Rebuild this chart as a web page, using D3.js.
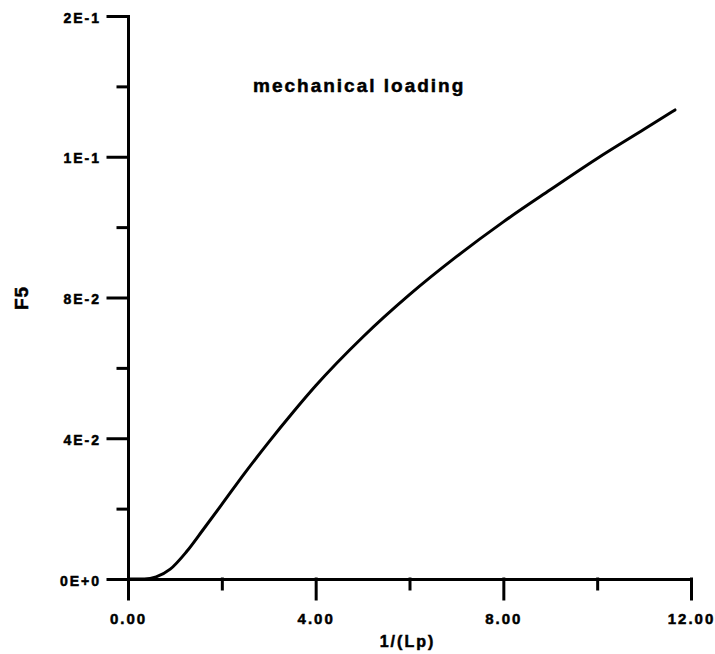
<!DOCTYPE html>
<html>
<head>
<meta charset="utf-8">
<script src="https://cdn.jsdelivr.net/npm/d3@7"></script>
<style>
  html, body { margin: 0; padding: 0; background: #fff; }
  svg { display: block; }
  text { font-family: "Liberation Sans", Arial, sans-serif; font-weight: bold; fill: #000;
         stroke: #000; stroke-width: 0.5px; }
</style>
</head>
<body>
<div id="chart"></div>
<script>
// ── Data ──────────────────────────────────────────────────────────────
const xVals = [0, 0.35, 0.60, 0.90, 1.25, 1.60, 2.0, 2.5, 3.0, 3.5, 4.0,
               5.0, 6.0, 7.0, 8.0, 9.0, 10.0, 11.0, 11.66];
const yVals = [0, 0, 0.0006, 0.0028, 0.0078, 0.0140, 0.0212, 0.0303, 0.0389, 0.0471, 0.0549,
               0.0687, 0.0808, 0.0916, 0.1015, 0.1106, 0.1195, 0.1278, 0.1333];

const xTicks      = [0, 4, 8, 12];
const xTickLabels = ["0.00", "4.00", "8.00", "12.00"];
const xMinor      = [2, 6, 10];

const yTicks      = [0, 0.04, 0.08, 0.12, 0.16];
const yTickLabels = ["0E+0", "4E-2", "8E-2", "1E-1", "2E-1"];
const yMinor      = [0.02, 0.06, 0.10, 0.14];

const W = 715, H = 654;

const x = d3.scaleLinear().domain([0, 12]).range([128, 691]);
const y = d3.scaleLinear().domain([0, 0.16]).range([579, 16]);

const svg = d3.select("#chart").append("svg")
  .attr("width", W)
  .attr("height", H);

// ── Axes ──────────────────────────────────────────────────────────────
function styleAxis(g) {
  g.selectAll("path, line")
    .attr("stroke", "#000")
    .attr("stroke-width", 3)
    .attr("stroke-linecap", "square");
  g.selectAll("text")
    .attr("fill", "#000")
    .style("letter-spacing", "2px");
}

// minor ticks first (no labels)
svg.append("g")
  .attr("transform", `translate(0,${y(0)})`)
  .call(d3.axisBottom(x).tickValues(xMinor).tickSize(10).tickSizeOuter(0).tickFormat(""))
  .call(g => g.select(".domain").remove())
  .call(styleAxis);

svg.append("g")
  .attr("transform", `translate(${x(0)},0)`)
  .call(d3.axisLeft(y).tickValues(yMinor).tickSize(10).tickSizeOuter(0).tickFormat(""))
  .call(g => g.select(".domain").remove())
  .call(styleAxis);

// major ticks + labels
svg.append("g")
  .attr("transform", `translate(0,${y(0)})`)
  .call(d3.axisBottom(x).tickValues(xTicks).tickSize(20).tickSizeOuter(0)
    .tickFormat((d, i) => xTickLabels[i]))
  .call(styleAxis)
  .call(g => g.selectAll("text").attr("font-size", 15).attr("dy", 0).attr("y", 45)
    .attr("font-family", null));

svg.append("g")
  .attr("transform", `translate(${x(0)},0)`)
  .call(d3.axisLeft(y).tickValues(yTicks).tickSize(20).tickSizeOuter(0).tickPadding(7)
    .tickFormat((d, i) => yTickLabels[i]))
  .call(styleAxis)
  .call(g => g.selectAll("text").attr("font-size", 14).attr("dy", 6)
    .attr("font-family", null));

// ── Curve ─────────────────────────────────────────────────────────────
const pts = xVals.map((v, i) => [v, yVals[i]]);

svg.append("path")
  .datum(pts)
  .attr("fill", "none")
  .attr("stroke", "#000")
  .attr("stroke-width", 3)
  .attr("stroke-linecap", "round")
  .attr("d", d3.line()
    .x(d => x(d[0]))
    .y(d => y(d[1]))
    .curve(d3.curveMonotoneX));

// ── Labels ────────────────────────────────────────────────────────────
svg.append("text")
  .attr("x", 253)
  .attr("y", 92)
  .attr("font-size", 19)
  .style("letter-spacing", "2px")
  .text("mechanical loading");

svg.append("text")
  .attr("x", x(6) - 2)
  .attr("y", 647)
  .attr("text-anchor", "middle")
  .attr("font-size", 16)
  .style("letter-spacing", "2px")
  .text("1/(Lp)");

svg.append("text")
  .attr("transform", "translate(28,298) rotate(-90)")
  .attr("text-anchor", "middle")
  .attr("font-size", 19)
  .style("letter-spacing", "1px")
  .text("F5");
</script>
</body>
</html>
